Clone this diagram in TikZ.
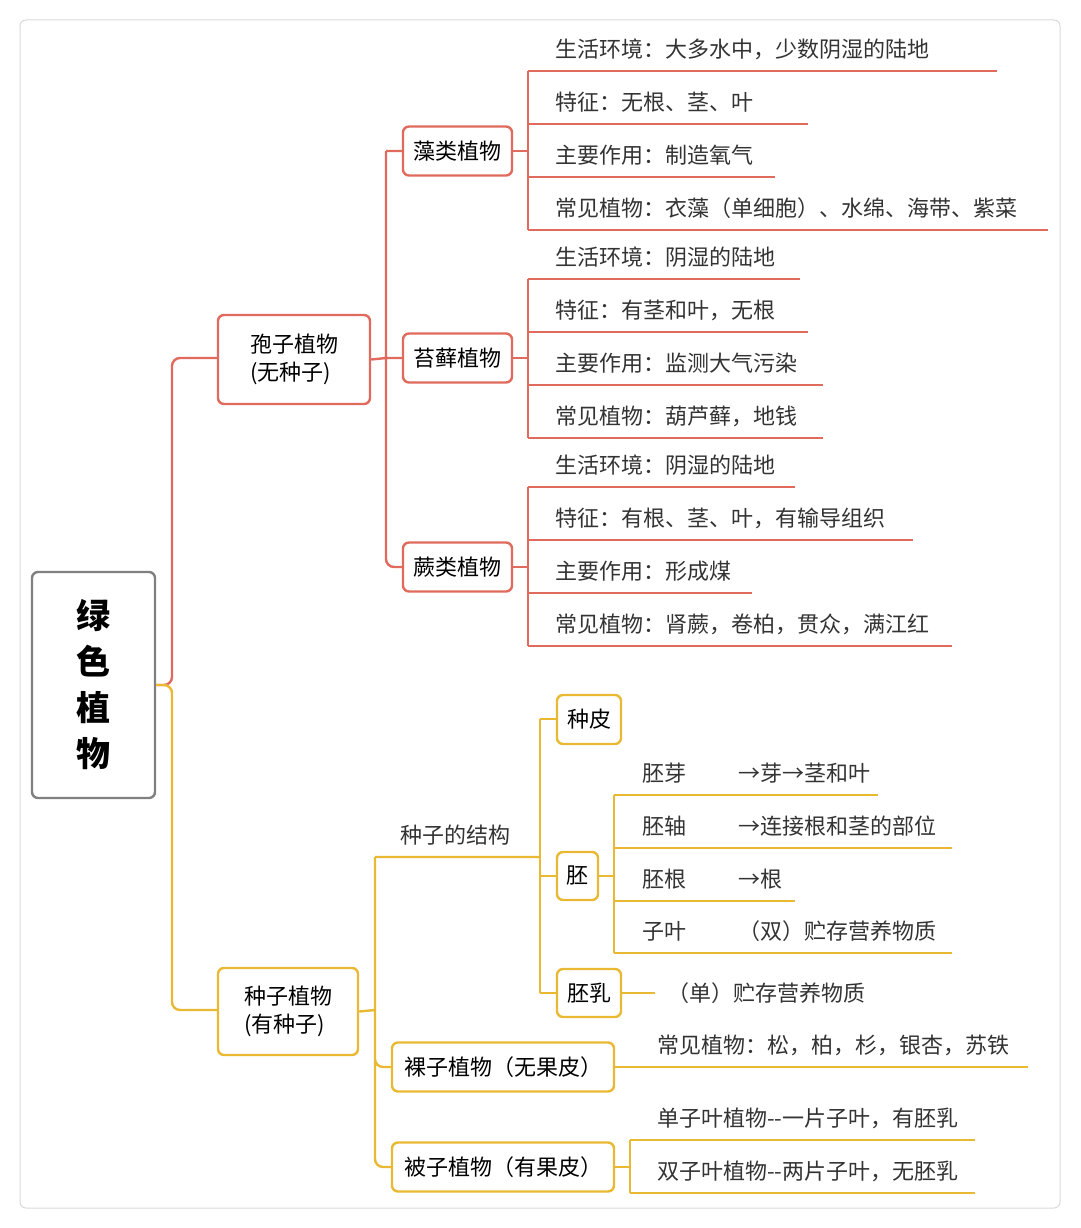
\documentclass[tikz,border=0pt]{standalone}
\usepackage{fontspec}
\setmainfont{Noto Sans CJK SC}
\definecolor{hong}{HTML}{E06A5C}
\definecolor{huang}{HTML}{E9B934}
\tikzset{
  box/.style={draw=#1,line width=2.4pt,rounded corners=6pt,inner sep=0pt,font=\fontsize{22}{28}\selectfont},
  ln/.style={draw=#1,line width=2.4pt,rounded corners=8pt},
  leaf/.style={anchor=west,inner sep=0pt,font=\fontsize{22}{28}\selectfont,text=black!80}
}
\begin{document}
\begin{tikzpicture}[x=1pt,y=-1pt]
\useasboundingbox (0,0) rectangle (1080,1228);
\draw[black!15,line width=1pt,rounded corners=6pt] (20,20) rectangle (1060,1208);
% root
\node[draw=gray,line width=2.4pt,rounded corners=6pt,minimum width=123pt,minimum height=226pt,
  align=center,font=\fontsize{34}{46}\selectfont\bfseries] (root) at (93.5,685) {绿\\色\\植\\物};
\draw[ln=hong] (root.east) -- (172,685) -- (172,358) -- (218,358);
\draw[ln=huang] (root.east) -- (172,685) -- (172,1010) -- (218,1010);
% spore plants
\node[box=hong,minimum width=152pt,minimum height=89pt,align=left] (bz) at (294,359.5) {孢子植物\\(无种子)};
\draw[ln=hong] (bz.east) -- (386,358) (386,151) -- (403,151) (386,151) -- (386,567) -- (403,567) (386,358) -- (403,358);
\foreach \n/\t/\y in {zl/藻类植物/151,tx/苔藓植物/358,jl/蕨类植物/567}
  \node[box=hong,minimum width=109pt,minimum height=49pt] (\n) at (457.5,\y) {\t};
% leaves
\foreach \n/\ya/\yb in {zl/71/230,tx/279/438,jl/487/646}
  \draw[ln=hong] (\n.east) -- ++(16,0) (528,\ya) -- (528,\yb);
\foreach \y/\e/\t in {
  71/997/{生活环境：大多水中，少数阴湿的陆地},124/808/{特征：无根、茎、叶},
  177/775/{主要作用：制造氧气},230/1048/{常见植物：衣藻（单细胞）、水绵、海带、紫菜},
  279/800/{生活环境：阴湿的陆地},332/808/{特征：有茎和叶，无根},
  385/823/{主要作用：监测大气污染},438/823/{常见植物：葫芦藓，地钱},
  487/795/{生活环境：阴湿的陆地},540/913/{特征：有根、茎、叶，有输导组织},
  593/752/{主要作用：形成煤},646/952/{常见植物：肾蕨，卷柏，贯众，满江红}}{
  \draw[ln=hong] (528,\y) -- (\e,\y);
  \node[leaf] at (555,\y-22) {\t};
}
% seed plants
\node[box=huang,minimum width=140pt,minimum height=87pt,align=left] (zz) at (288,1011.5) {种子植物\\(有种子)};
\draw[ln=huang] (zz.east) -- (375,1010) (375,857) -- (540,857) (375,857) -- (375,1167) -- (392,1167) (375,1010) -- (375,1067) -- (392,1067);
\node[leaf] (jg) at (400,835) {种子的结构};
\node[box=huang,minimum width=222pt,minimum height=49pt] (lz) at (503,1067) {裸子植物（无果皮）};
\node[box=huang,minimum width=222pt,minimum height=49pt] (bzz) at (503,1167) {被子植物（有果皮）};
\draw[ln=huang] (540,719) -- (540,993);
\draw[ln=huang] (540,719) -- (557,719) (540,876) -- (557,876) (540,993) -- (557,993);
\node[box=huang,minimum width=64pt,minimum height=49pt] (zp) at (589,719.5) {种皮};
\node[box=huang,minimum width=41pt,minimum height=48pt] (pei) at (577.5,876) {胚};
\node[box=huang,minimum width=64pt,minimum height=48pt] (pr) at (589,993) {胚乳};
\draw[ln=huang] (pei.east) -- (614,876) (614,795) -- (614,953);
\foreach \y/\e/\a/\b in {795/878/胚芽/{→芽→茎和叶},848/952/胚轴/{→连接根和茎的部位},
  901/795/胚根/{→根},953/952/子叶/{（双）贮存营养物质}}{
  \draw[ln=huang] (614,\y) -- (\e,\y);
  \node[leaf] at (642,\y-22) {\a};
  \node[leaf] at (738,\y-22) {\b};
}
\draw[ln=huang] (pr.east) -- (655,993);
\node[leaf] at (667,993) {（单）贮存营养物质};
\draw[ln=huang] (lz.east) -- (1028,1067);
\node[leaf] at (657,1045) {常见植物：松，柏，杉，银杏，苏铁};
\draw[ln=huang] (bzz.east) -- (630,1167) (630,1140) -- (630,1193);
\foreach \y/\t in {1140/{单子叶植物-{}-一片子叶，有胚乳},1193/{双子叶植物-{}-两片子叶，无胚乳}}{
  \draw[ln=huang] (630,\y) -- (975,\y);
  \node[leaf] at (657,\y-22) {\t};
}
\end{tikzpicture}
\end{document}
